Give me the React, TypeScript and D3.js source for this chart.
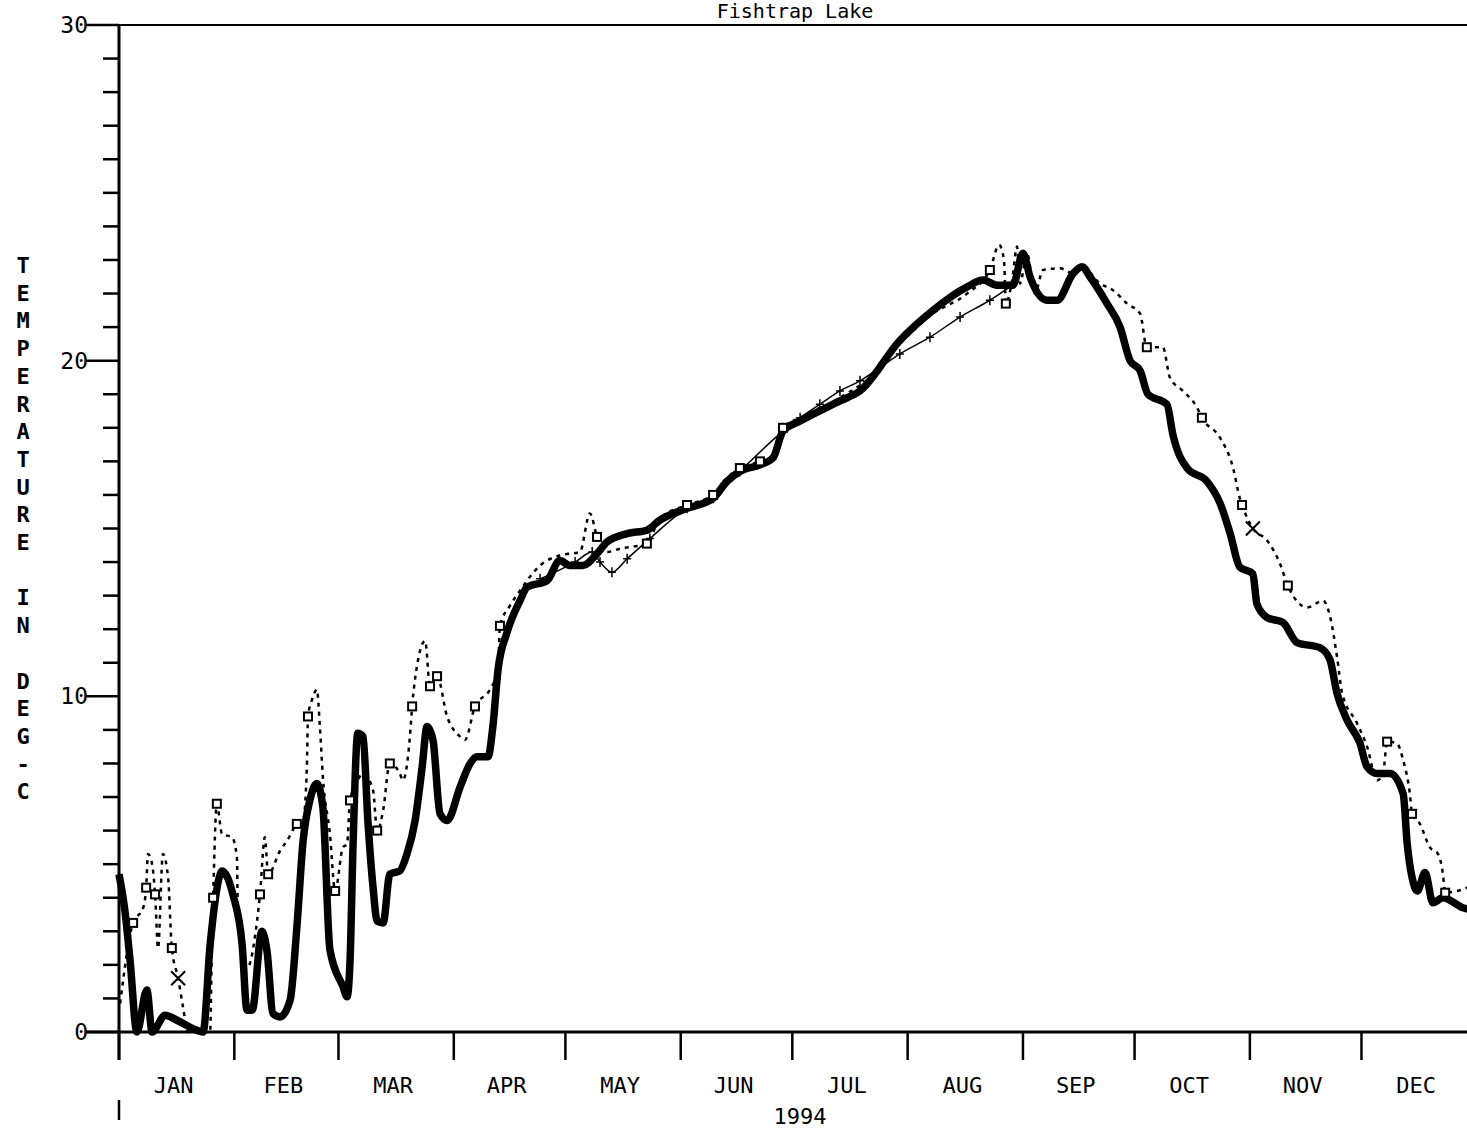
import { useEffect, useRef } from "react";
import * as d3 from "d3";

// day-of-year (0 = Jan 1) and temperature in deg C
const thickSeries: [number, number][] = [
  [0, 4.7], [1.6, 3.6], [3.0, 2.1], [4.8, 0], [7.5, 1.25], [8.9, 0], [12.4, 0.5],
  [15.6, 0.35], [19.9, 0.1], [22.6, 0], [24.5, 2.6], [27.2, 4.7], [27.7, 4.8],
  [30.6, 4.1], [33.1, 2.6], [34.4, 0.65], [35.8, 0.65], [38.4, 3.0], [39.8, 2.4],
  [41.4, 0.55], [43.3, 0.45], [46.0, 0.95], [47.8, 3.1], [49.5, 5.7], [51.3, 6.9],
  [53.2, 7.4], [54.8, 6.7], [56.7, 2.45], [60.2, 1.35], [61.3, 1.05], [62.1, 2.1],
  [62.9, 5.5], [64.2, 8.9], [65.6, 8.8], [66.9, 6.3], [68.3, 4.3], [69.4, 3.3],
  [71.0, 3.25], [72.8, 4.7], [75.5, 4.8], [77.4, 5.3], [79.6, 6.3], [81.5, 7.9],
  [82.8, 9.1], [84.4, 8.7], [86.3, 6.5], [88.2, 6.3], [91.7, 7.3], [94.4, 8.0],
  [96.2, 8.2], [99.2, 8.2], [100.5, 9.1], [101.9, 10.8], [104.3, 11.9], [107.8, 12.85],
  [109.7, 13.25], [115.1, 13.45], [118.5, 14.05], [121.2, 13.9], [124.7, 13.9],
  [128.5, 14.25], [131.2, 14.6], [136.6, 14.85], [141.9, 14.95], [145.4, 15.25],
  [152.7, 15.6], [159.7, 15.9], [163.4, 16.4], [166.9, 16.7], [172.3, 16.9],
  [175.8, 17.1], [178.5, 17.9], [183.1, 18.2], [193.8, 18.8], [199.2, 19.1],
  [209.9, 20.6], [218.8, 21.5], [228.0, 22.2], [232.3, 22.4], [236.0, 22.25],
  [240.3, 22.25], [243.0, 23.2], [244.9, 22.5], [249.5, 21.8], [252.2, 21.8],
  [256.5, 22.6], [258.9, 22.8], [261.0, 22.5], [265.6, 21.7], [269.1, 21.0],
  [271.8, 20.0], [274.5, 19.7], [276.6, 19.0], [281.7, 18.7], [283.3, 17.8],
  [287.1, 16.8], [292.5, 16.4], [296.0, 15.75], [298.7, 14.85], [301.3, 13.85],
  [304.8, 13.65], [305.9, 12.75], [308.6, 12.35], [312.9, 12.2], [316.7, 11.6],
  [322.8, 11.45], [325.5, 11.1], [327.4, 10.1], [330.1, 9.3], [333.6, 8.6],
  [335.5, 7.9], [338.2, 7.7], [341.7, 7.7], [345.2, 7.1], [346.3, 5.6], [347.6, 4.6],
  [349.0, 4.2], [351.1, 4.75], [353.2, 3.85], [355.9, 4.0], [361.3, 3.7], [365, 3.6],
];

const dottedSeries: [number, number][] = [
  [0.3, 0.85], [3.8, 3.25], [6.5, 3.7], [7.3, 4.3], [7.8, 5.3], [8.9, 5.0], [9.7, 4.1],
  [10.5, 2.5], [11.8, 5.3], [13.2, 4.6], [14.2, 2.5], [15.9, 1.6], [17.2, 0.75],
  [18.5, 0], [24.5, 0], [25.0, 2.8], [25.3, 4.0], [26.3, 6.8], [27.7, 5.9], [30.4, 5.8],
  [31.7, 5.2], [32.0, 3.1], [34.4, 1.9], [37.1, 3.3], [37.9, 4.1], [39.2, 5.8],
  [40.1, 4.7], [43.3, 5.4], [45.2, 5.7], [47.8, 6.2], [49.5, 6.3], [50.5, 7.9],
  [50.8, 9.4], [51.9, 9.9], [53.2, 10.2], [54.0, 9.1], [54.8, 7.6], [56.7, 5.9],
  [58.1, 4.2], [60.2, 5.5], [61.3, 5.6], [62.1, 6.9], [63.4, 7.3], [65.6, 7.7],
  [68.3, 7.2], [69.4, 6.0], [71.0, 6.6], [72.8, 8.0], [75.5, 7.7], [76.3, 7.5],
  [78.2, 8.8], [78.8, 9.7], [80.1, 10.9], [82.3, 11.65], [83.6, 10.3], [85.5, 10.6],
  [88.2, 9.4], [91.7, 8.8], [93.0, 8.7], [95.7, 9.7], [99.7, 10.2], [101.9, 10.8],
  [102.4, 12.1], [105.1, 12.7], [107.8, 13.15], [113.2, 13.9], [118.5, 14.2],
  [123.9, 14.3], [126.6, 15.45], [128.5, 14.75], [131.2, 14.3], [134.7, 14.4],
  [141.9, 14.55], [145.4, 15.3], [152.7, 15.7], [159.7, 16.0], [163.4, 16.5],
  [166.9, 16.8], [172.3, 17.0], [175.8, 17.2], [178.5, 18.0], [183.1, 18.3],
  [193.8, 18.9], [201.9, 19.5], [209.9, 20.5], [218.8, 21.4], [228.0, 22.0],
  [234.1, 22.7], [236.6, 23.45], [237.9, 23.0], [238.4, 21.7], [240.1, 22.4],
  [241.4, 23.4], [242.2, 22.3], [244.1, 23.2], [246.2, 22.0], [248.4, 22.7],
  [253.0, 22.75], [256.5, 22.6], [258.9, 22.8], [263.7, 22.3], [267.2, 22.1],
  [271.0, 21.7], [274.5, 21.4], [276.3, 20.4], [280.6, 20.4], [282.5, 19.5],
  [286.0, 19.1], [289.8, 18.6], [291.1, 18.3], [296.0, 17.7], [299.5, 16.8],
  [301.3, 15.9], [301.9, 15.7], [304.8, 15.0], [308.6, 14.65], [312.1, 13.95],
  [314.2, 13.3], [319.4, 12.65], [323.7, 12.85], [325.5, 12.4], [327.4, 11.2],
  [328.8, 10.1], [332.8, 9.2], [335.5, 8.5], [338.2, 7.5], [339.8, 7.7], [340.9, 8.65],
  [343.5, 8.6], [345.2, 8.1], [347.0, 7.1], [347.6, 6.5], [349.7, 6.2], [352.4, 5.5],
  [354.6, 5.3], [355.9, 4.7], [356.5, 4.15], [359.7, 4.2], [362.4, 4.3],
];

// days of the dotted series that carry a square marker
const squareDays = [
  3.8, 7.3, 9.7, 14.2, 25.3, 26.3, 37.9, 40.1, 47.8, 50.8, 58.1, 62.1, 69.4, 72.8,
  78.8, 83.6, 85.5, 95.7, 102.4, 128.5, 141.9, 152.7, 159.7, 166.9, 172.3, 178.5,
  234.1, 238.4, 276.3, 291.1, 301.9, 314.2, 340.9, 347.6, 356.5,
];

const thinSeries: [number, number][] = [
  [113.2, 13.5], [122.6, 14.0], [127.2, 14.3], [129.3, 14.0], [132.5, 13.7],
  [136.6, 14.1], [142.7, 14.7], [152.7, 15.6], [159.7, 15.9], [166.9, 16.7],
  [178.5, 17.9], [183.1, 18.3], [188.4, 18.7], [193.8, 19.1], [199.2, 19.4],
  [204.6, 19.8], [209.9, 20.2], [218.0, 20.7], [226.1, 21.3], [234.1, 21.8],
  [239.5, 22.2],
];

const crossPoints: [number, number][] = [
  [15.9, 1.6],
  [304.8, 15.0],
];

const monthLabels = ["JAN", "FEB", "MAR", "APR", "MAY", "JUN", "JUL", "AUG", "SEP", "OCT", "NOV", "DEC"];
const monthStarts = [0, 31, 59, 90, 120, 151, 181, 212, 243, 273, 304, 334, 365];
const yLabels = [0, 10, 20, 30];
const yAxisTitle = "TEMPERATURE IN DEG-C";
const chartTitle = "Fishtrap Lake";
const yearLabel = "1994";

export default function App() {
  const svgRef = useRef<SVGSVGElement>(null);

  useEffect(() => {
    if (!svgRef.current) return;
    const svg = d3.select(svgRef.current);
    svg.selectAll("*").remove();

    const W = 1467;
    const H = 1129;
    const left = 119;
    const top = 25;
    const bottom = 1032;
    const font = "'DejaVu Sans Mono', monospace";

    svg.attr("width", W).attr("height", H);
    svg.append("rect").attr("width", W).attr("height", H).attr("fill", "#fff");

    const x = d3.scaleLinear().domain([0, 365]).range([left, left + 365 * 3.72]);
    const y = d3.scaleLinear().domain([0, 30]).range([bottom, top]);

    // title
    svg
      .append("text")
      .attr("x", 795)
      .attr("y", 18)
      .attr("text-anchor", "middle")
      .style("font-family", font)
      .style("font-size", "20px")
      .text(chartTitle);

    // frame: top line, left axis, bottom axis
    svg.append("line").attr("x1", left).attr("x2", W).attr("y1", top).attr("y2", top)
      .attr("stroke", "#000").attr("stroke-width", 2);
    svg.append("line").attr("x1", left).attr("x2", left).attr("y1", top).attr("y2", bottom + 28)
      .attr("stroke", "#000").attr("stroke-width", 3);
    svg.append("line").attr("x1", 86).attr("x2", W).attr("y1", bottom).attr("y2", bottom)
      .attr("stroke", "#000").attr("stroke-width", 3);

    // y ticks
    const minor = d3.range(1, 30);
    svg
      .append("g")
      .selectAll("line")
      .data(minor.filter((v) => v % 10 !== 0))
      .join("line")
      .attr("x1", left - 16)
      .attr("x2", left)
      .attr("y1", (d) => y(d))
      .attr("y2", (d) => y(d))
      .attr("stroke", "#000")
      .attr("stroke-width", 2.5);

    svg
      .append("g")
      .selectAll("line")
      .data(yLabels)
      .join("line")
      .attr("x1", 86)
      .attr("x2", left)
      .attr("y1", (d) => y(d))
      .attr("y2", (d) => y(d))
      .attr("stroke", "#000")
      .attr("stroke-width", 2.5);

    svg
      .append("g")
      .selectAll("text")
      .data(yLabels)
      .join("text")
      .attr("x", 88)
      .attr("y", (d) => y(d) + 8)
      .attr("text-anchor", "end")
      .style("font-family", font)
      .style("font-size", "23px")
      .text((d) => String(d));

    // y axis title, stacked letters
    svg
      .append("g")
      .selectAll("text")
      .data(yAxisTitle.split(""))
      .join("text")
      .attr("x", 23)
      .attr("y", (_, i) => 273 + i * 27.7)
      .attr("text-anchor", "middle")
      .style("font-family", font)
      .style("font-size", "22px")
      .style("font-weight", "bold")
      .text((d) => d);

    // x ticks and month labels
    svg
      .append("g")
      .selectAll("line")
      .data(monthStarts.slice(0, 12))
      .join("line")
      .attr("x1", (d) => x(d))
      .attr("x2", (d) => x(d))
      .attr("y1", bottom)
      .attr("y2", bottom + 28)
      .attr("stroke", "#000")
      .attr("stroke-width", 2.5);

    svg
      .append("g")
      .selectAll("text")
      .data(monthLabels)
      .join("text")
      .attr("x", (_, i) => x((monthStarts[i] + monthStarts[i + 1]) / 2) - 3)
      .attr("y", 1093)
      .attr("text-anchor", "middle")
      .style("font-family", font)
      .style("font-size", "22px")
      .text((d) => d);

    svg
      .append("text")
      .attr("x", 800)
      .attr("y", 1124)
      .attr("text-anchor", "middle")
      .style("font-family", font)
      .style("font-size", "22px")
      .text(yearLabel);

    svg.append("line").attr("x1", left).attr("x2", left).attr("y1", 1100).attr("y2", 1120)
      .attr("stroke", "#000").attr("stroke-width", 2.5);

    const line = d3
      .line<[number, number]>()
      .x((d) => x(d[0]))
      .y((d) => y(d[1]))
      .curve(d3.curveMonotoneX);

    const plot = svg.append("g");

    // dotted series
    plot
      .append("path")
      .datum(dottedSeries)
      .attr("fill", "none")
      .attr("stroke", "#000")
      .attr("stroke-width", 2.5)
      .attr("stroke-dasharray", "4,5")
      .attr("d", line);

    // thin series
    plot
      .append("path")
      .datum(thinSeries)
      .attr("fill", "none")
      .attr("stroke", "#000")
      .attr("stroke-width", 1.5)
      .attr("d", line);

    plot
      .append("g")
      .selectAll("path")
      .data(thinSeries)
      .join("path")
      .attr("transform", (d) => `translate(${x(d[0])},${y(d[1])})`)
      .attr("d", "M-4,0L4,0M0,-5L0,5")
      .attr("stroke", "#000")
      .attr("stroke-width", 1.5);

    // thick series
    plot
      .append("path")
      .datum(thickSeries)
      .attr("fill", "none")
      .attr("stroke", "#000")
      .attr("stroke-width", 7.5)
      .attr("stroke-linejoin", "round")
      .attr("d", line);

    // square markers
    const lookup = new Map(dottedSeries.map((d) => [d[0], d[1]]));
    plot
      .append("g")
      .selectAll("rect")
      .data(squareDays)
      .join("rect")
      .attr("x", (d) => x(d) - 4)
      .attr("y", (d) => y(lookup.get(d) ?? 0) - 4)
      .attr("width", 8)
      .attr("height", 8)
      .attr("fill", "#fff")
      .attr("stroke", "#000")
      .attr("stroke-width", 2);

    // X markers
    plot
      .append("g")
      .selectAll("path")
      .data(crossPoints)
      .join("path")
      .attr("transform", (d) => `translate(${x(d[0])},${y(d[1])})`)
      .attr("d", "M-7,-7L7,7M-7,7L7,-7")
      .attr("stroke", "#000")
      .attr("stroke-width", 2);
  }, []);

  return (
    <svg
      ref={svgRef}
      style={{ position: "absolute", left: 0, top: 0, display: "block" }}
    />
  );
}
